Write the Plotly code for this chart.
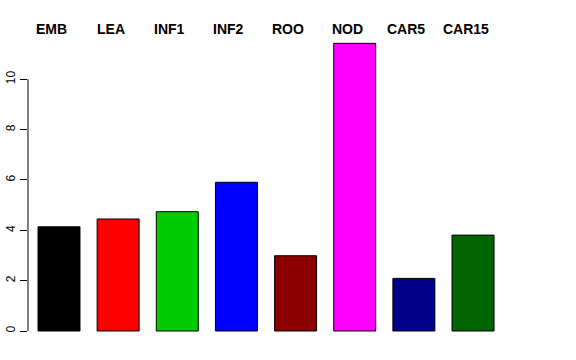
import plotly.graph_objects as go

categories = ["EMB", "LEA", "INF1", "INF2", "ROO", "NOD", "CAR5", "CAR15"]
values = [4.14, 4.45, 4.74, 5.91, 2.99, 11.43, 2.09, 3.81]
bar_colors = ["#000000", "#FF0000", "#00CD00", "#0000FF", "#8B0000", "#FF00FF", "#00008B", "#006400"]
y_ticks = [0, 2, 4, 6, 8, 10]

x_pos = list(range(len(categories)))

fig = go.Figure()
fig.add_trace(go.Bar(
    x=x_pos,
    y=values,
    width=0.71,
    marker=dict(color=bar_colors, line=dict(color="#000000", width=1)),
    hoverinfo="skip",
))

for xi, name in zip(x_pos, categories):
    fig.add_annotation(
        x=xi - 0.127, y=1, xref="x", yref="paper",
        text="<b>" + name + "</b>", showarrow=False,
        xanchor="center", yanchor="middle", yshift=2,
        font=dict(family="Liberation Sans, Arial, sans-serif", size=14, color="#000000"),
    )

# y-axis line drawn only over the tick span (R style)
fig.add_shape(type="line", xref="paper", yref="y", x0=0, x1=0,
              y0=y_ticks[0], y1=y_ticks[-1], line=dict(color="#000000", width=1))

fig.update_layout(
    width=576, height=360,
    margin=dict(l=28, r=64, t=31, b=17, autoexpand=False),
    paper_bgcolor="white", plot_bgcolor="white",
    showlegend=False,
    hovermode=False,
    font=dict(family="Liberation Sans, Arial, sans-serif", color="#000000"),
    xaxis=dict(range=[-0.524, 7.659], visible=False, fixedrange=True, automargin=False),
    yaxis=dict(
        range=[-0.477, 11.92], tickvals=y_ticks, ticktext=[str(v) for v in y_ticks],
        ticks="outside", ticklen=7, tickcolor="#000000", tickwidth=1,
        tickangle=-90, tickfont=dict(size=12, color="#000000"),
        showgrid=False, zeroline=False, showline=False, automargin=False,
        fixedrange=True,
    ),
)

fig.write_html(
    "out.html",
    config={"displayModeBar": False, "staticPlot": True},
    post_script="document.body.style.margin='0';document.body.style.overflow='hidden';",
)
